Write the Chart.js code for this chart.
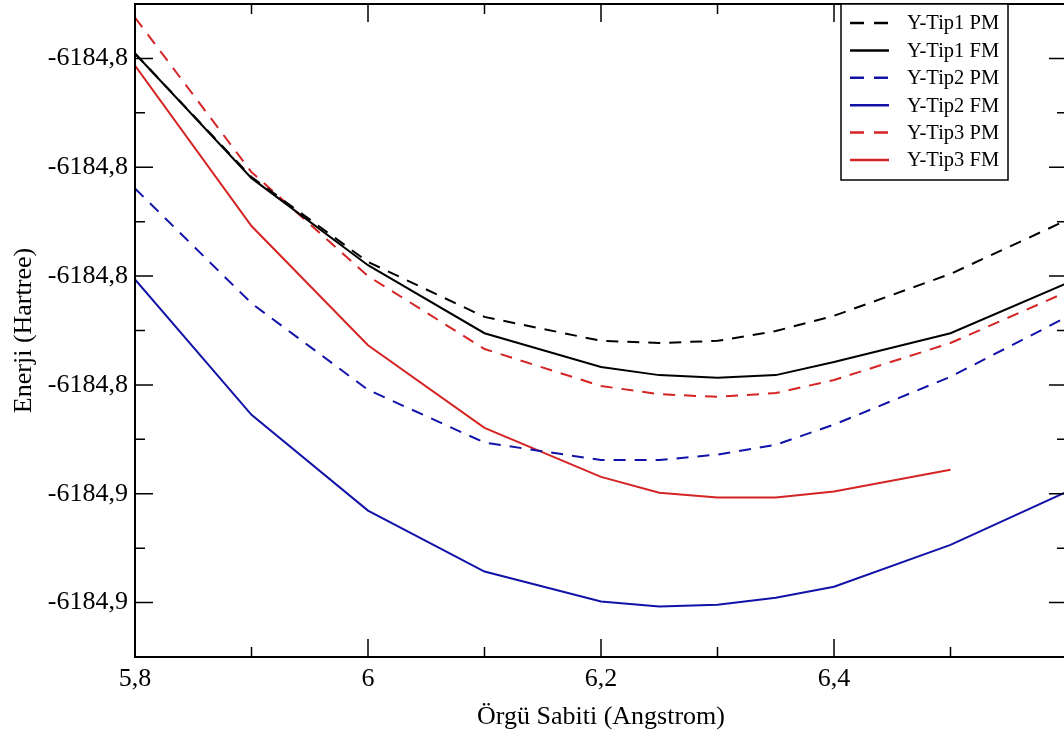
<!DOCTYPE html>
<html>
<head>
<meta charset="utf-8">
<script src="https://cdn.jsdelivr.net/npm/chart.js@4.4.1/dist/chart.umd.min.js"></script>
<style>
  html, body { margin: 0; padding: 0; background: #fff; overflow: hidden; }
  #wrap { width: 1068px; height: 738px; }
</style>
</head>
<body>
<div id="wrap"><canvas id="c" width="1068" height="738"></canvas></div>
<script>
// ---- data ----
const latticeConst = [5.8, 5.9, 6.0, 6.1, 6.2, 6.25, 6.3, 6.35, 6.4, 6.5, 6.6];
const tip1PM = [-6184.7791, -6184.8018, -6184.8174, -6184.8275, -6184.8319, -6184.8323, -6184.8319, -6184.8301, -6184.8273, -6184.8196, -6184.8097];
const tip1FM = [-6184.7791, -6184.8020, -6184.8180, -6184.8305, -6184.8367, -6184.8382, -6184.8387, -6184.8382, -6184.8358, -6184.8305, -6184.8213];
const tip2PM = [-6184.8039, -6184.8250, -6184.8409, -6184.8506, -6184.8538, -6184.8538, -6184.8528, -6184.8510, -6184.8473, -6184.8385, -6184.8275];
const tip2FM = [-6184.8206, -6184.8455, -6184.8631, -6184.8743, -6184.8798, -6184.8807, -6184.8804, -6184.8791, -6184.8771, -6184.8694, -6184.8596];
const tip3PM = [-6184.7725, -6184.8009, -6184.8200, -6184.8334, -6184.8402, -6184.8417, -6184.8422, -6184.8415, -6184.8391, -6184.8323, -6184.8229];
const tip3FM = [-6184.7813, -6184.8108, -6184.8327, -6184.8479, -6184.8569, -6184.8598, -6184.8607, -6184.8607, -6184.8596, -6184.8556, null];

const seriesNames = ['Y-Tip1 PM', 'Y-Tip1 FM', 'Y-Tip2 PM', 'Y-Tip2 FM', 'Y-Tip3 PM', 'Y-Tip3 FM'];

const xMajorTicks = [5.8, 6.0, 6.2, 6.4];
const xTickLabels = ['5,8', '6', '6,2', '6,4'];
const xMinorTicks = [5.9, 6.1, 6.3, 6.5];
const yMajorTicks = [-6184.78, -6184.80, -6184.82, -6184.84, -6184.86, -6184.88];
const yTickLabels = ['-6184,8', '-6184,8', '-6184,8', '-6184,8', '-6184,9', '-6184,9'];
const yMinorTicks = [-6184.79, -6184.81, -6184.83, -6184.85, -6184.87];

const xTitle = 'Örgü Sabiti (Angstrom)';
const yTitle = 'Enerji (Hartree)';

// ---- styles ----
const BLACK = '#000000', BLUE = '#1212a8', RED = '#d42424';
const DASH = [12, 9];
const FONT = '"Liberation Serif", "Times New Roman", serif';

function toPoints(arr) { return latticeConst.map((x, i) => ({ x: x, y: arr[i] })); }

const styles = [
  { color: BLACK, dash: DASH },
  { color: BLACK, dash: [] },
  { color: BLUE, dash: DASH },
  { color: BLUE, dash: [] },
  { color: RED, dash: DASH },
  { color: RED, dash: [] }
];
const seriesData = [tip1PM, tip1FM, tip2PM, tip2FM, tip3PM, tip3FM];

const datasets = seriesData.map((d, i) => ({
  label: seriesNames[i],
  data: toPoints(d),
  borderColor: styles[i].color,
  backgroundColor: styles[i].color,
  borderDash: styles[i].dash,
  borderWidth: 2,
  pointRadius: 0,
  tension: 0,
  fill: false,
  spanGaps: false
}));

// frame + inward ticks
const framePlugin = {
  id: 'frame',
  afterDatasetsDraw(chart) {
    const ctx = chart.ctx, a = chart.chartArea, xs = chart.scales.x, ys = chart.scales.y;
    ctx.save();
    ctx.strokeStyle = '#000';
    ctx.lineWidth = 2;
    ctx.setLineDash([]);
    ctx.strokeRect(a.left, a.top, a.right - a.left, a.bottom - a.top);
    ctx.lineWidth = 1.5;
    const MAJ = 18, MIN = 10;
    ctx.beginPath();
    xMajorTicks.forEach(v => { const p = xs.getPixelForValue(v);
      ctx.moveTo(p, a.bottom); ctx.lineTo(p, a.bottom - MAJ);
      ctx.moveTo(p, a.top); ctx.lineTo(p, a.top + MAJ); });
    xMinorTicks.forEach(v => { const p = xs.getPixelForValue(v);
      ctx.moveTo(p, a.bottom); ctx.lineTo(p, a.bottom - MIN);
      ctx.moveTo(p, a.top); ctx.lineTo(p, a.top + MIN); });
    yMajorTicks.forEach(v => { const p = ys.getPixelForValue(v);
      ctx.moveTo(a.left, p); ctx.lineTo(a.left + MAJ, p);
      ctx.moveTo(a.right, p); ctx.lineTo(a.right - MAJ, p); });
    yMinorTicks.forEach(v => { const p = ys.getPixelForValue(v);
      ctx.moveTo(a.left, p); ctx.lineTo(a.left + MIN, p);
      ctx.moveTo(a.right, p); ctx.lineTo(a.right - MIN, p); });
    ctx.stroke();
    ctx.restore();
  }
};

// legend box inside plot
const legendPlugin = {
  id: 'boxLegend',
  afterDraw(chart) {
    const ctx = chart.ctx, a = chart.chartArea;
    const bx = 841, by = a.top, bw = 167, bh = 176;
    ctx.save();
    ctx.fillStyle = '#fff';
    ctx.fillRect(bx, by, bw, bh);
    ctx.strokeStyle = '#000';
    ctx.lineWidth = 1.5;
    ctx.setLineDash([]);
    ctx.strokeRect(bx, by, bw, bh);
    ctx.font = '20.5px ' + FONT;
    ctx.textBaseline = 'middle';
    ctx.textAlign = 'left';
    chart.data.datasets.forEach((ds, i) => {
      const y = a.top + 19 + i * 27.4;
      ctx.strokeStyle = ds.borderColor;
      ctx.lineWidth = 2.5;
      ctx.setLineDash(ds.borderDash.length ? [14, 10] : []);
      ctx.beginPath(); ctx.moveTo(850, y); ctx.lineTo(889, y); ctx.stroke();
      ctx.fillStyle = '#000';
      ctx.fillText(ds.label, 907, y + 1);
    });
    ctx.restore();
  }
};

new Chart(document.getElementById('c'), {
  type: 'line',
  data: { datasets },
  options: {
    responsive: false,
    animation: false,
    devicePixelRatio: 1,
    layout: { padding: { left: 0, top: 4, right: 1, bottom: 0 } },
    plugins: { legend: { display: false }, tooltip: { enabled: false } },
    scales: {
      x: {
        type: 'linear', min: 5.8, max: 6.6,
        grid: { display: false, drawTicks: false },
        border: { display: false },
        afterBuildTicks: s => { s.ticks = xMajorTicks.map(v => ({ value: v })); },
        afterFit: s => { s.height = 81; s.paddingLeft = 0; s.paddingRight = 0; },
        ticks: {
          padding: 7, color: '#000', maxRotation: 0, autoSkip: false,
          font: { family: FONT, size: 26 },
          callback: (v) => { const i = xMajorTicks.findIndex(t => Math.abs(t - v) < 1e-6); return i >= 0 ? xTickLabels[i] : ''; }
        },
        title: { display: true, text: xTitle, color: '#000', font: { family: FONT, size: 26 }, padding: { top: 0, bottom: 5 } }
      },
      y: {
        type: 'linear', min: -6184.89, max: -6184.77,
        grid: { display: false, drawTicks: false },
        border: { display: false },
        afterBuildTicks: s => { s.ticks = yMajorTicks.map(v => ({ value: v })); },
        afterFit: s => { s.width = 135; s.paddingTop = 0; s.paddingBottom = 0; },
        ticks: {
          padding: 7, color: '#000', autoSkip: false,
          font: { family: FONT, size: 26 },
          callback: (v) => { const i = yMajorTicks.findIndex(t => Math.abs(t - v) < 1e-6); return i >= 0 ? yTickLabels[i] : ''; }
        },
        title: { display: true, text: yTitle, color: '#000', font: { family: FONT, size: 26 }, padding: { top: 9, bottom: 0 } }
      }
    }
  },
  plugins: [framePlugin, legendPlugin]
});
</script>
</body>
</html>
